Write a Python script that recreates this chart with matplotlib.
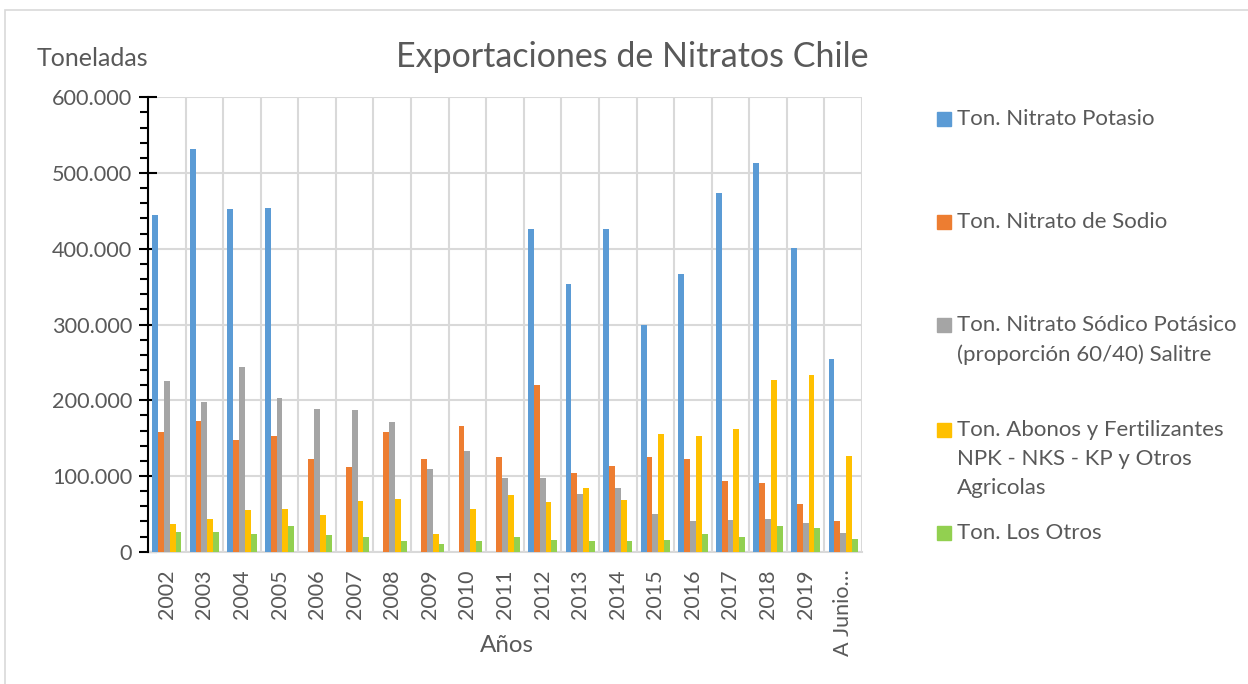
import matplotlib.pyplot as plt
import numpy as np
from matplotlib.patches import Rectangle
from matplotlib.ticker import MultipleLocator, FuncFormatter

# Datos (toneladas)
anios = ['2002', '2003', '2004', '2005', '2006', '2007', '2008', '2009', '2010',
         '2011', '2012', '2013', '2014', '2015', '2016', '2017', '2018', '2019',
         'A Junio…']
nitrato_potasio = [444000, 532000, 452500, 454000, 0, 0, 0, 0, 0,
                   0, 425700, 354000, 426600, 299000, 367000, 473000, 513700, 400600,
                   254400]
nitrato_sodio = [157600, 172600, 148000, 153000, 122000, 112000, 157600, 122000, 165500,
                 125000, 220000, 103400, 113000, 125000, 123000, 93300, 90700, 62500,
                 40500]
nitrato_sodico_potasico = [225800, 197600, 243400, 203000, 188000, 186600, 171000, 109000, 133000,
                           97700, 97300, 75700, 84500, 49700, 40500, 41400, 42700, 37900,
                           24700]
abonos = [36500, 43000, 54600, 57000, 48000, 67000, 69000, 23800, 56800,
          74400, 66000, 84000, 68000, 156000, 152700, 162400, 226700, 232900,
          126300]
otros = [26000, 25500, 23300, 34000, 22000, 20000, 13600, 10000, 14000,
         19000, 15800, 14000, 14000, 15400, 22900, 19800, 33900, 30800,
         16700]

series = [nitrato_potasio, nitrato_sodio, nitrato_sodico_potasico, abonos, otros]
nombres = ['Ton. Nitrato Potasio',
           'Ton. Nitrato de Sodio',
           'Ton. Nitrato Sódico Potásico\n(proporción 60/40) Salitre',
           'Ton. Abonos y Fertilizantes\nNPK - NKS - KP y Otros\nAgricolas',
           'Ton. Los Otros']
colores = ['#5B9BD5', '#ED7D31', '#A5A5A5', '#FFC000', '#92D050']

plt.rcParams['font.family'] = ['Lato', 'DejaVu Sans']
gris_texto = '#595959'
W, H = 1248, 684

fig = plt.figure(figsize=(W / 100, H / 100), dpi=100)
ax = fig.add_axes([148 / W, 1 - 551.7 / H, (862 - 148) / W, (551.7 - 97.3) / H])

x = np.arange(len(anios))
ancho = 0.156
for i, (vals, nombre, col) in enumerate(zip(series, nombres, colores)):
    ax.bar(x + (i - 2) * ancho, vals, width=ancho, color=col, label=nombre, zorder=3)

ax.set_xlim(-0.5, len(anios) - 0.5)
ax.set_ylim(0, 600000)

# grilla
ax.yaxis.set_major_locator(MultipleLocator(100000))
ax.yaxis.set_minor_locator(MultipleLocator(20000))
ax.set_xticks(x)
ax.set_xticks(np.arange(-0.5, len(anios), 1), minor=True)
ax.grid(axis='y', which='major', color='#D9D9D9', linewidth=1.5, zorder=0)
ax.grid(axis='x', which='minor', color='#D9D9D9', linewidth=1.5, zorder=0)

ax.yaxis.set_major_formatter(FuncFormatter(lambda v, p: f'{v:,.0f}'.replace(',', '.')))
ax.tick_params(axis='y', which='major', direction='inout', length=13, width=1.5,
               color='black', labelsize=15.6, labelcolor=gris_texto, pad=5)
ax.tick_params(axis='y', which='minor', direction='out', length=6, width=1.5, color='black')
ax.tick_params(axis='x', which='both', length=0, labelsize=15.5, labelcolor=gris_texto,
               pad=13)
ax.set_xticklabels(anios, rotation=90, va='top', ha='center')

for s in ['top', 'right']:
    ax.spines[s].set_visible(False)
ax.spines['left'].set_color('black')
ax.spines['left'].set_linewidth(1.5)
ax.spines['left'].set_zorder(4)
ax.spines['bottom'].set_color('#D9D9D9')
ax.spines['bottom'].set_linewidth(1.5)

# textos
fig.text(632 / W, 1 - 57 / H, 'Exportaciones de Nitratos Chile', ha='center', va='center',
         fontsize=24.5, color=gris_texto)
fig.text(92 / W, 1 - 59 / H, 'Toneladas', ha='center', va='center', fontsize=18,
         color=gris_texto)
fig.text(507 / W, 1 - 645 / H, 'Años', ha='center', va='center', fontsize=17.4,
         color=gris_texto)

# leyenda
y_entradas = [119, 222, 325, 430, 533]
for nombre, col, yy in zip(nombres, colores, y_entradas):
    fig.patches.append(Rectangle((937 / W, 1 - (yy + 7) / H), 14 / W, 14 / H,
                                 transform=fig.transFigure, color=col))
    fig.text(957 / W, 1 - (yy - 10) / H, nombre, ha='left', va='top', fontsize=16,
             color=gris_texto, linespacing=1.56)

# borde del grafico
fig.patches.append(Rectangle((5 / W, -0.1), 1.2, 1 - 10 / H + 0.1, transform=fig.transFigure,
                             fill=False, edgecolor='#D9D9D9', linewidth=1.2))

fig.savefig('out.png', dpi=100)
